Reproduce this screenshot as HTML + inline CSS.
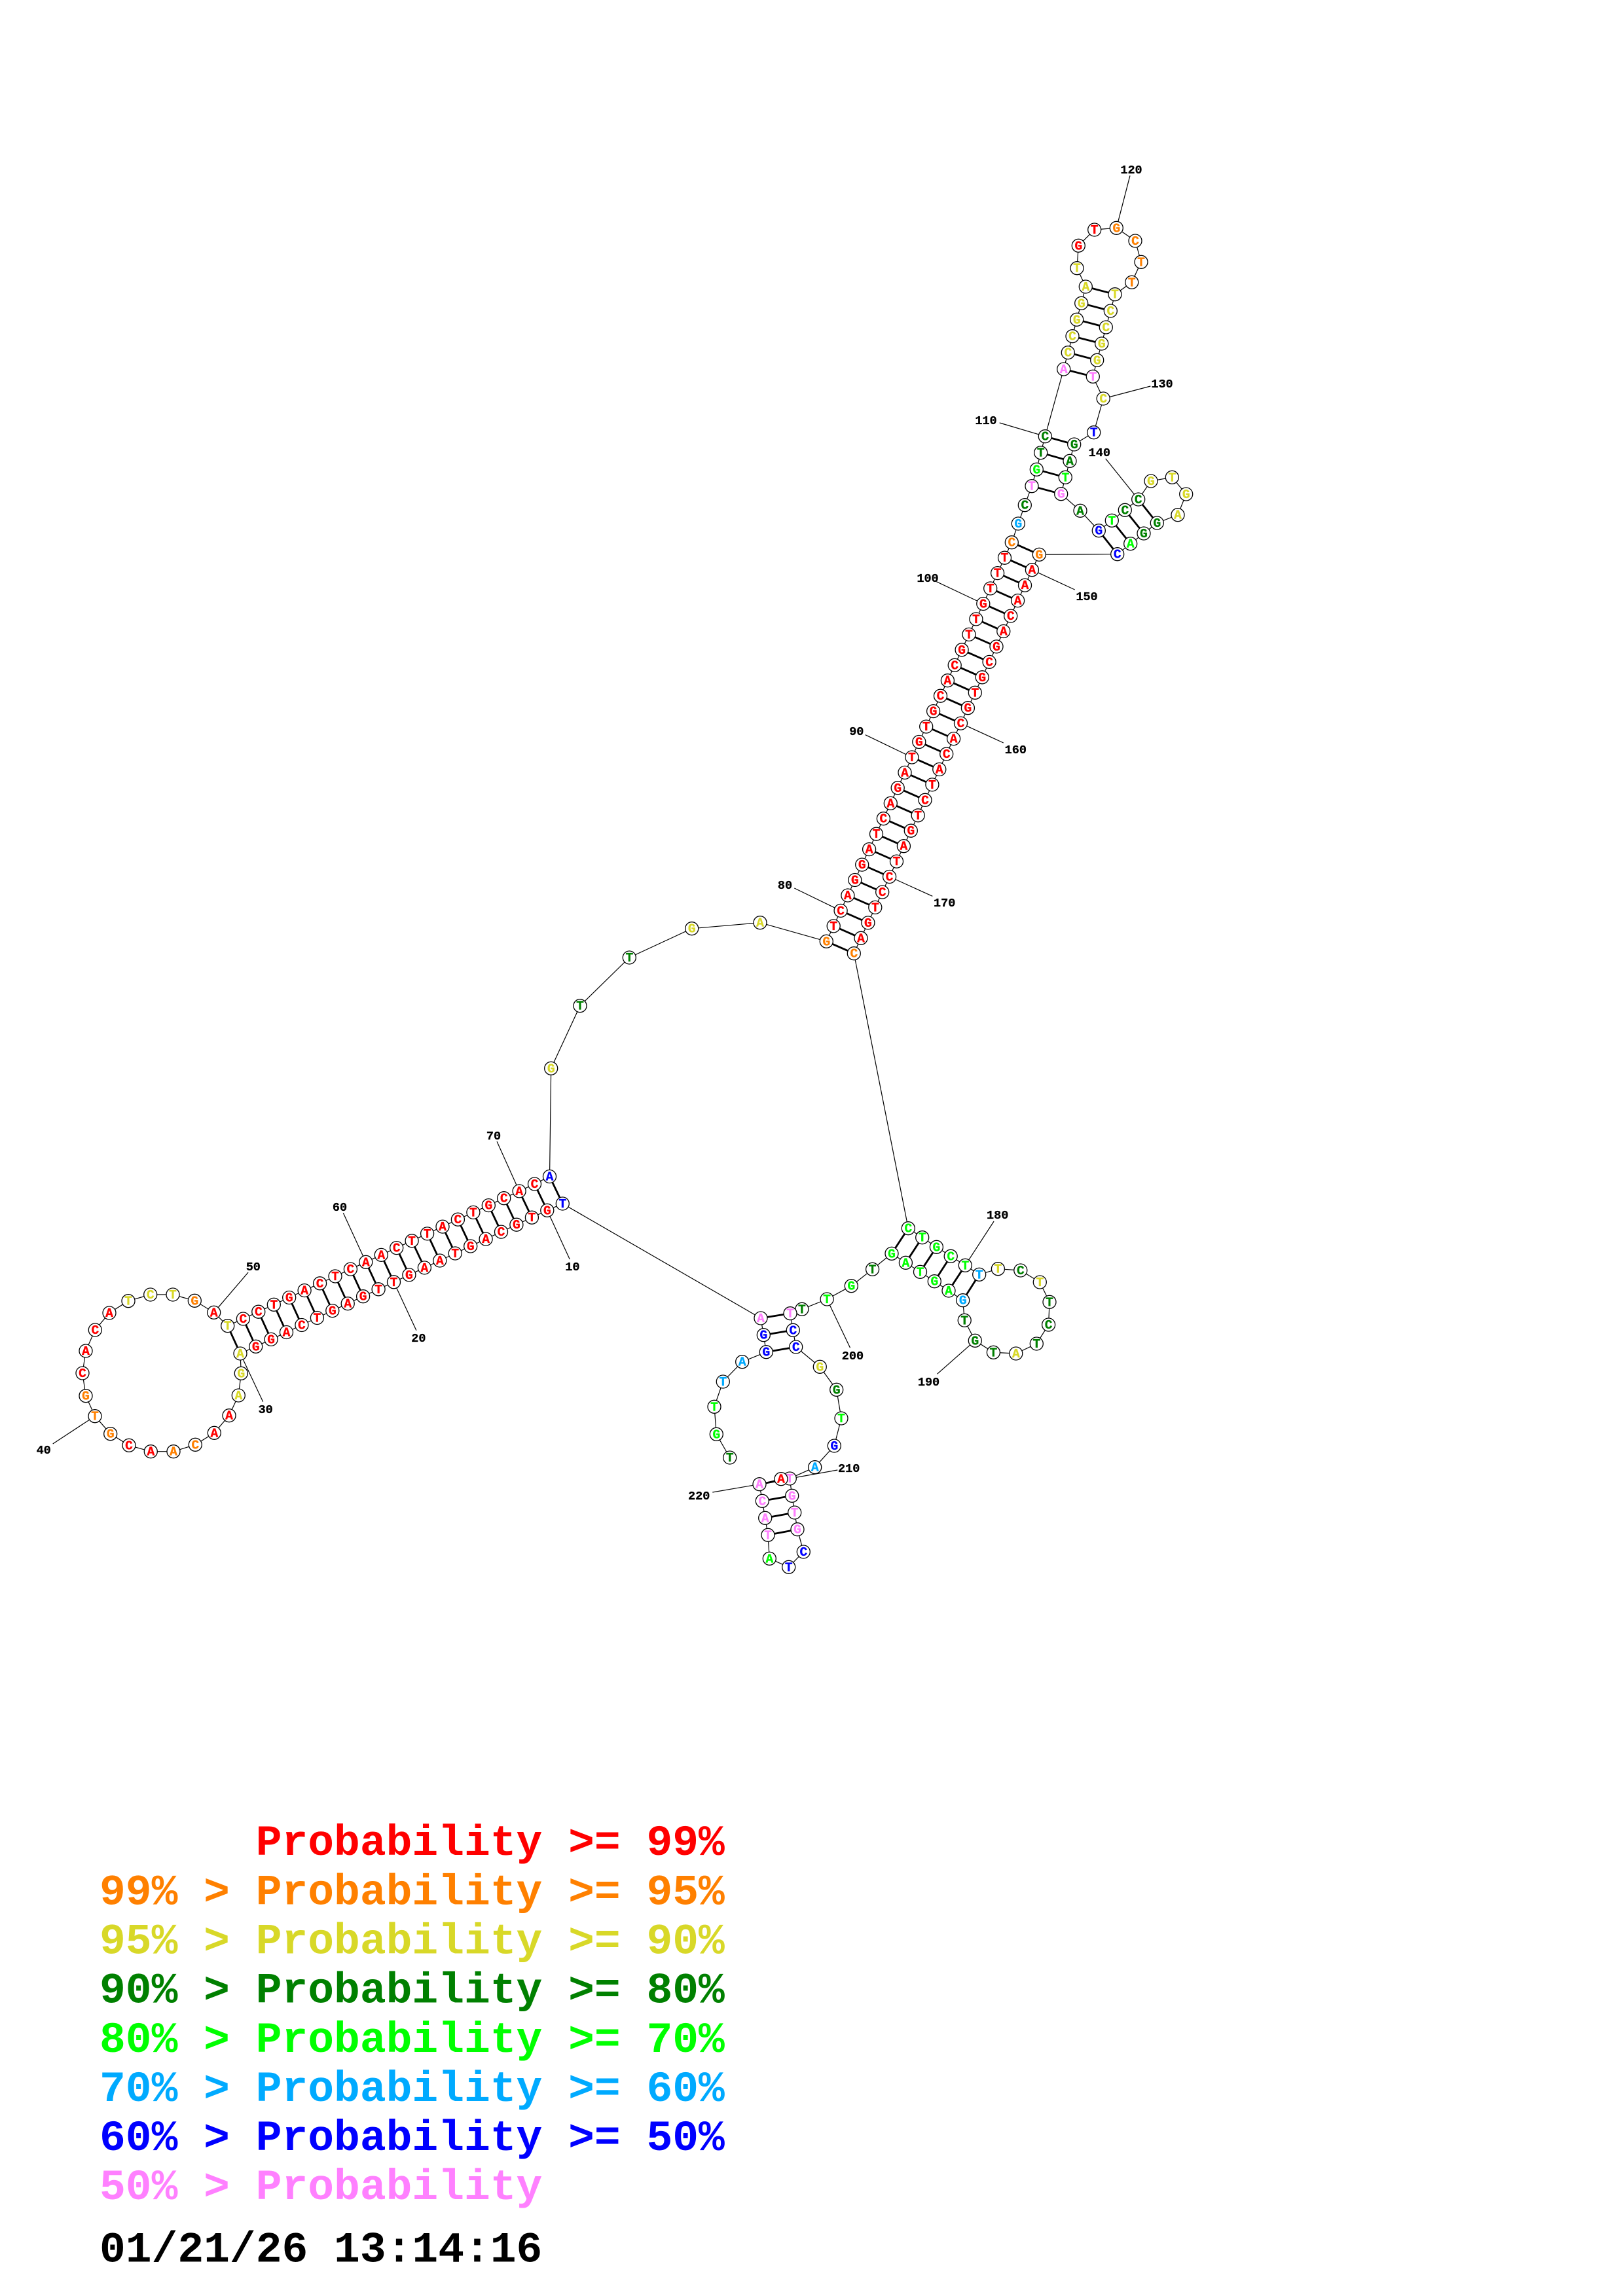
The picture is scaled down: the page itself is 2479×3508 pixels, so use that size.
<!DOCTYPE html>
<html><head><meta charset="utf-8"><style>
html,body{margin:0;padding:0;background:#fff}
svg{display:block}
circle{fill:#fff;stroke:#000;stroke-width:1.3}
text{font-family:"Liberation Mono",monospace;font-weight:bold}
.n text{font-size:19.5px;text-anchor:middle;stroke-width:.35}
.l{font-size:18.5px;text-anchor:middle;fill:#000;stroke:#000;stroke-width:.3}
.r{fill:#f00;stroke:#f00}.o{fill:#ff8000;stroke:#ff8000}.y{fill:#d8d828;stroke:#d8d828}.d{fill:#008000;stroke:#008000}.g{fill:#0f0;stroke:#0f0}.b{fill:#00aaff;stroke:#00aaff}.u{fill:#00f;stroke:#00f}.p{fill:#ff80ff;stroke:#ff80ff}
.L{font-size:66.3px;white-space:pre;stroke:none}
</style></head><body>
<svg xmlns="http://www.w3.org/2000/svg" width="2479" height="3508" viewBox="0 0 2479 3508">
<rect width="2479" height="3508" fill="#fff"/>
<path fill="none" stroke="#000" stroke-width="1.2" d="M1114.7 2227L1094.3 2191.3L1091 2149.3L1104.3 2111L1133.7 2080.7L1170.3 2065.7L1166.3 2039.7L1162 2014L859.3 1839L835.8 1849.3L812.4 1860.2L788.9 1871.2L765.5 1882.1L742.1 1893.1L718.7 1904L695.2 1915L671.8 1926L648.4 1936.9L624.9 1947.9L601.5 1958.8L578.1 1969.8L554.6 1980.7L531.2 1991.7L507.8 2002.6L484.4 2013.5L460.9 2024.5L437.5 2035.5L414.1 2046.4L390.7 2057.3L367 2068L368.3 2098.3L364.3 2132L350 2162.7L327.3 2189.3L298.3 2207.3L265 2217.7L230.3 2217.7L197 2208.3L168.7 2190.7L145 2163.7L131 2132.7L126 2098L131 2064L145.3 2032L167 2006L196 1987.7L229.7 1978L264 1978L297.3 1987.3L326.7 2005.3L347.7 2025.7L371.4 2015L394.8 2004.2L418.3 1993.3L441.7 1982.5L465.1 1971.6L488.6 1960.8L512 1950L535.4 1939.1L558.8 1928.3L582.3 1917.4L605.7 1906.6L629.1 1895.8L652.6 1884.9L676 1874.1L699.4 1863.2L722.9 1852.4L746.3 1841.6L769.7 1830.7L793.1 1819.9L816.5 1809L839.5 1797.5L841.7 1632.3L886 1536.7L961.3 1463L1056.7 1418.7L1161 1409.7L1262.3 1438.3L1273.2 1414.9L1284.1 1391.4L1294.9 1368L1305.8 1344.5L1316.7 1321.1L1327.6 1297.6L1338.5 1274.2L1349.4 1250.7L1360.3 1227.3L1371.2 1203.8L1382 1180.4L1392.9 1157L1403.8 1133.5L1414.7 1110.1L1425.6 1086.6L1436.5 1063.2L1447.4 1039.7L1458.2 1016.3L1469.1 992.8L1480 969.4L1490.9 945.9L1501.8 922.5L1512.7 899L1523.6 875.6L1534.5 852.2L1545.3 828.7L1555.3 800L1565.3 771.7L1576 742.7L1583.3 717.3L1589.7 691.7L1596.3 666.7L1624.7 564L1631.3 538.7L1638 513.7L1644.7 488.3L1651.7 463.3L1658.3 438L1645 409.7L1647.3 375.3L1671.7 351L1705.3 348.3L1734 368L1743 400.3L1728.7 431.3L1703 449.7L1696.3 475L1689.3 500L1682.7 525L1675.7 550.3L1669.3 575.3L1685.2 609L1670.7 660.7L1640.7 679L1634 704.3L1627.3 729.3L1620.7 754.7L1650 780.3L1678.3 810.7L1698.3 795.3L1718.3 779.3L1738.7 763L1758 735L1790.3 729.3L1811.7 755L1799 786.7L1767.3 799L1747 815L1726.7 830.7L1706.7 846.7L1587.3 847.3L1576.4 870.7L1565.5 894.2L1554.6 917.6L1543.7 941.1L1532.8 964.5L1522 987.9L1511.1 1011.4L1500.2 1034.8L1489.3 1058.3L1478.4 1081.7L1467.5 1105.1L1456.6 1128.6L1445.7 1152L1434.8 1175.5L1423.9 1198.9L1413 1222.3L1402.2 1245.8L1391.3 1269.2L1380.4 1292.7L1369.5 1316.1L1358.6 1339.5L1347.7 1363L1336.8 1386.4L1325.9 1409.9L1315 1433.3L1304.3 1456.7L1387.3 1876.7L1408.7 1890.7L1430.4 1905.3L1452.2 1919.3L1474.3 1933.3L1495.7 1947.3L1524.4 1938.7L1558.8 1941L1588.3 1959L1603 1989.3L1601.6 2024L1583.3 2053L1551.8 2068L1517.4 2066.3L1489.3 2048.3L1473.2 2017.3L1470.7 1986.7L1449 1972L1427.3 1957.7L1405.5 1943.3L1383.4 1929.3L1362 1915.3L1332.6 1939.3L1300.3 1964.7L1263.1 1985L1224.9 2000.3L1207 2006.7L1211.3 2032.3L1215.7 2058L1252.3 2088.3L1277.7 2123.3L1285 2167L1274.3 2209L1244.7 2241.7L1206.3 2259L1209.7 2285.3L1213.7 2311L1218 2336.7L1227.3 2371L1204.7 2394.3L1175.3 2381.3L1173 2345.3L1168.7 2319.3L1164.3 2293.3L1160 2267.7L1193 2259.7"/>
<path fill="none" stroke="#000" stroke-width="2.8" d="M859.3 1839L839.5 1797.5M835.8 1849.3L816.5 1809M812.4 1860.2L793.1 1819.9M788.9 1871.2L769.7 1830.7M765.5 1882.1L746.3 1841.6M742.1 1893.1L722.9 1852.4M718.7 1904L699.4 1863.2M695.2 1915L676 1874.1M671.8 1926L652.6 1884.9M648.4 1936.9L629.1 1895.8M624.9 1947.9L605.7 1906.6M601.5 1958.8L582.3 1917.4M578.1 1969.8L558.8 1928.3M554.6 1980.7L535.4 1939.1M531.2 1991.7L512 1950M507.8 2002.6L488.6 1960.8M484.4 2013.5L465.1 1971.6M460.9 2024.5L441.7 1982.5M437.5 2035.5L418.3 1993.3M414.1 2046.4L394.8 2004.2M390.7 2057.3L371.4 2015M367 2068L347.7 2025.7
M1262.3 1438.3L1304.3 1456.7M1273.2 1414.9L1315 1433.3M1284.1 1391.4L1325.9 1409.9M1294.9 1368L1336.8 1386.4M1305.8 1344.5L1347.7 1363M1316.7 1321.1L1358.6 1339.5M1327.6 1297.6L1369.5 1316.1M1338.5 1274.2L1380.4 1292.7M1349.4 1250.7L1391.3 1269.2M1360.3 1227.3L1402.2 1245.8M1371.2 1203.8L1413 1222.3M1382 1180.4L1423.9 1198.9M1392.9 1157L1434.8 1175.5M1403.8 1133.5L1445.7 1152M1414.7 1110.1L1456.6 1128.6M1425.6 1086.6L1467.5 1105.1M1436.5 1063.2L1478.4 1081.7M1447.4 1039.7L1489.3 1058.3M1458.2 1016.3L1500.2 1034.8M1469.1 992.8L1511.1 1011.4M1480 969.4L1522 987.9M1490.9 945.9L1532.8 964.5M1501.8 922.5L1543.7 941.1M1512.7 899L1554.6 917.6M1523.6 875.6L1565.5 894.2M1534.5 852.2L1576.4 870.7M1545.3 828.7L1587.3 847.3
M1576 742.7L1620.7 754.7M1583.3 717.3L1627.3 729.3M1589.7 691.7L1634 704.3M1596.3 666.7L1640.7 679
M1624.7 564L1669.3 575.3M1631.3 538.7L1675.7 550.3M1638 513.7L1682.7 525M1644.7 488.3L1689.3 500M1651.7 463.3L1696.3 475M1658.3 438L1703 449.7
M1678.3 810.7L1706.7 846.7M1698.3 795.3L1726.7 830.7M1718.3 779.3L1747 815M1738.7 763L1767.3 799
M1387.3 1876.7L1362 1915.3M1408.7 1890.7L1383.4 1929.3M1430.4 1905.3L1405.5 1943.3M1452.2 1919.3L1427.3 1957.7M1474.3 1933.3L1449 1972M1495.7 1947.3L1470.7 1986.7
M1162 2014L1207 2006.7M1166.3 2039.7L1211.3 2032.3M1170.3 2065.7L1215.7 2058
M1206.3 2259L1160 2267.7M1209.7 2285.3L1164.3 2293.3M1213.7 2311L1168.7 2319.3M1218 2336.7L1173 2345.3"/>
<path fill="none" stroke="#000" stroke-width="1.2" d="M835.8 1849.3L870.2 1924M601.5 1958.8L635.9 2032.7M367 2068L401.7 2141.7M145 2163.7L80.7 2206M326.7 2005.3L379.1 1944M558.8 1928.3L524.3 1853.3M793.1 1819.9L759 1744M1284.1 1391.4L1213.3 1357M1392.9 1157L1321.7 1122.7M1501.8 922.5L1430.4 888.7M1596.3 666.7L1526.7 646M1705.3 348.3L1726 268.3M1685.2 609L1757.3 590M1738.7 763L1688.7 700.7M1576.4 870.7L1641.7 901M1467.5 1105.1L1532.7 1135M1358.6 1339.5L1424.3 1369.3M1474.3 1933.3L1518.1 1866M1489.3 2048.3L1431.5 2099.3M1263.1 1985L1298.5 2059.3M1206.3 2259L1279.3 2246M1160 2267.7L1088.3 2280"/>
<g class="n">
<circle cx="1114.7" cy="2227" r="10"/><text x="1114.7" y="2233" class="d">T</text>
<circle cx="1094.3" cy="2191.3" r="10"/><text x="1094.3" y="2197.3" class="g">G</text>
<circle cx="1091" cy="2149.3" r="10"/><text x="1091" y="2155.3" class="g">T</text>
<circle cx="1104.3" cy="2111" r="10"/><text x="1104.3" y="2117" class="b">T</text>
<circle cx="1133.7" cy="2080.7" r="10"/><text x="1133.7" y="2086.7" class="b">A</text>
<circle cx="1170.3" cy="2065.7" r="10"/><text x="1170.3" y="2071.7" class="u">G</text>
<circle cx="1166.3" cy="2039.7" r="10"/><text x="1166.3" y="2045.7" class="u">G</text>
<circle cx="1162" cy="2014" r="10"/><text x="1162" y="2020" class="p">A</text>
<circle cx="859.3" cy="1839" r="10"/><text x="859.3" y="1845" class="u">T</text>
<circle cx="835.8" cy="1849.3" r="10"/><text x="835.8" y="1855.3" class="r">G</text>
<circle cx="812.4" cy="1860.2" r="10"/><text x="812.4" y="1866.2" class="r">T</text>
<circle cx="788.9" cy="1871.2" r="10"/><text x="788.9" y="1877.2" class="r">G</text>
<circle cx="765.5" cy="1882.1" r="10"/><text x="765.5" y="1888.1" class="r">C</text>
<circle cx="742.1" cy="1893.1" r="10"/><text x="742.1" y="1899.1" class="r">A</text>
<circle cx="718.7" cy="1904" r="10"/><text x="718.7" y="1910" class="r">G</text>
<circle cx="695.2" cy="1915" r="10"/><text x="695.2" y="1921" class="r">T</text>
<circle cx="671.8" cy="1926" r="10"/><text x="671.8" y="1932" class="r">A</text>
<circle cx="648.4" cy="1936.9" r="10"/><text x="648.4" y="1942.9" class="r">A</text>
<circle cx="624.9" cy="1947.9" r="10"/><text x="624.9" y="1953.9" class="r">G</text>
<circle cx="601.5" cy="1958.8" r="10"/><text x="601.5" y="1964.8" class="r">T</text>
<circle cx="578.1" cy="1969.8" r="10"/><text x="578.1" y="1975.8" class="r">T</text>
<circle cx="554.6" cy="1980.7" r="10"/><text x="554.6" y="1986.7" class="r">G</text>
<circle cx="531.2" cy="1991.7" r="10"/><text x="531.2" y="1997.7" class="r">A</text>
<circle cx="507.8" cy="2002.6" r="10"/><text x="507.8" y="2008.6" class="r">G</text>
<circle cx="484.4" cy="2013.5" r="10"/><text x="484.4" y="2019.5" class="r">T</text>
<circle cx="460.9" cy="2024.5" r="10"/><text x="460.9" y="2030.5" class="r">C</text>
<circle cx="437.5" cy="2035.5" r="10"/><text x="437.5" y="2041.5" class="r">A</text>
<circle cx="414.1" cy="2046.4" r="10"/><text x="414.1" y="2052.4" class="r">G</text>
<circle cx="390.7" cy="2057.3" r="10"/><text x="390.7" y="2063.3" class="r">G</text>
<circle cx="367" cy="2068" r="10"/><text x="367" y="2074" class="y">A</text>
<circle cx="368.3" cy="2098.3" r="10"/><text x="368.3" y="2104.3" class="y">G</text>
<circle cx="364.3" cy="2132" r="10"/><text x="364.3" y="2138" class="y">A</text>
<circle cx="350" cy="2162.7" r="10"/><text x="350" y="2168.7" class="r">A</text>
<circle cx="327.3" cy="2189.3" r="10"/><text x="327.3" y="2195.3" class="r">A</text>
<circle cx="298.3" cy="2207.3" r="10"/><text x="298.3" y="2213.3" class="o">C</text>
<circle cx="265" cy="2217.7" r="10"/><text x="265" y="2223.7" class="o">A</text>
<circle cx="230.3" cy="2217.7" r="10"/><text x="230.3" y="2223.7" class="r">A</text>
<circle cx="197" cy="2208.3" r="10"/><text x="197" y="2214.3" class="r">C</text>
<circle cx="168.7" cy="2190.7" r="10"/><text x="168.7" y="2196.7" class="o">G</text>
<circle cx="145" cy="2163.7" r="10"/><text x="145" y="2169.7" class="o">T</text>
<circle cx="131" cy="2132.7" r="10"/><text x="131" y="2138.7" class="o">G</text>
<circle cx="126" cy="2098" r="10"/><text x="126" y="2104" class="r">C</text>
<circle cx="131" cy="2064" r="10"/><text x="131" y="2070" class="r">A</text>
<circle cx="145.3" cy="2032" r="10"/><text x="145.3" y="2038" class="r">C</text>
<circle cx="167" cy="2006" r="10"/><text x="167" y="2012" class="r">A</text>
<circle cx="196" cy="1987.7" r="10"/><text x="196" y="1993.7" class="y">T</text>
<circle cx="229.7" cy="1978" r="10"/><text x="229.7" y="1984" class="y">C</text>
<circle cx="264" cy="1978" r="10"/><text x="264" y="1984" class="y">T</text>
<circle cx="297.3" cy="1987.3" r="10"/><text x="297.3" y="1993.3" class="o">G</text>
<circle cx="326.7" cy="2005.3" r="10"/><text x="326.7" y="2011.3" class="r">A</text>
<circle cx="347.7" cy="2025.7" r="10"/><text x="347.7" y="2031.7" class="y">T</text>
<circle cx="371.4" cy="2015" r="10"/><text x="371.4" y="2021" class="r">C</text>
<circle cx="394.8" cy="2004.2" r="10"/><text x="394.8" y="2010.2" class="r">C</text>
<circle cx="418.3" cy="1993.3" r="10"/><text x="418.3" y="1999.3" class="r">T</text>
<circle cx="441.7" cy="1982.5" r="10"/><text x="441.7" y="1988.5" class="r">G</text>
<circle cx="465.1" cy="1971.6" r="10"/><text x="465.1" y="1977.6" class="r">A</text>
<circle cx="488.6" cy="1960.8" r="10"/><text x="488.6" y="1966.8" class="r">C</text>
<circle cx="512" cy="1950" r="10"/><text x="512" y="1956" class="r">T</text>
<circle cx="535.4" cy="1939.1" r="10"/><text x="535.4" y="1945.1" class="r">C</text>
<circle cx="558.8" cy="1928.3" r="10"/><text x="558.8" y="1934.3" class="r">A</text>
<circle cx="582.3" cy="1917.4" r="10"/><text x="582.3" y="1923.4" class="r">A</text>
<circle cx="605.7" cy="1906.6" r="10"/><text x="605.7" y="1912.6" class="r">C</text>
<circle cx="629.1" cy="1895.8" r="10"/><text x="629.1" y="1901.8" class="r">T</text>
<circle cx="652.6" cy="1884.9" r="10"/><text x="652.6" y="1890.9" class="r">T</text>
<circle cx="676" cy="1874.1" r="10"/><text x="676" y="1880.1" class="r">A</text>
<circle cx="699.4" cy="1863.2" r="10"/><text x="699.4" y="1869.2" class="r">C</text>
<circle cx="722.9" cy="1852.4" r="10"/><text x="722.9" y="1858.4" class="r">T</text>
<circle cx="746.3" cy="1841.6" r="10"/><text x="746.3" y="1847.6" class="r">G</text>
<circle cx="769.7" cy="1830.7" r="10"/><text x="769.7" y="1836.7" class="r">C</text>
<circle cx="793.1" cy="1819.9" r="10"/><text x="793.1" y="1825.9" class="r">A</text>
<circle cx="816.5" cy="1809" r="10"/><text x="816.5" y="1815" class="r">C</text>
<circle cx="839.5" cy="1797.5" r="10"/><text x="839.5" y="1803.5" class="u">A</text>
<circle cx="841.7" cy="1632.3" r="10"/><text x="841.7" y="1638.3" class="y">G</text>
<circle cx="886" cy="1536.7" r="10"/><text x="886" y="1542.7" class="d">T</text>
<circle cx="961.3" cy="1463" r="10"/><text x="961.3" y="1469" class="d">T</text>
<circle cx="1056.7" cy="1418.7" r="10"/><text x="1056.7" y="1424.7" class="y">G</text>
<circle cx="1161" cy="1409.7" r="10"/><text x="1161" y="1415.7" class="y">A</text>
<circle cx="1262.3" cy="1438.3" r="10"/><text x="1262.3" y="1444.3" class="o">G</text>
<circle cx="1273.2" cy="1414.9" r="10"/><text x="1273.2" y="1420.9" class="r">T</text>
<circle cx="1284.1" cy="1391.4" r="10"/><text x="1284.1" y="1397.4" class="r">C</text>
<circle cx="1294.9" cy="1368" r="10"/><text x="1294.9" y="1374" class="r">A</text>
<circle cx="1305.8" cy="1344.5" r="10"/><text x="1305.8" y="1350.5" class="r">G</text>
<circle cx="1316.7" cy="1321.1" r="10"/><text x="1316.7" y="1327.1" class="r">G</text>
<circle cx="1327.6" cy="1297.6" r="10"/><text x="1327.6" y="1303.6" class="r">A</text>
<circle cx="1338.5" cy="1274.2" r="10"/><text x="1338.5" y="1280.2" class="r">T</text>
<circle cx="1349.4" cy="1250.7" r="10"/><text x="1349.4" y="1256.7" class="r">C</text>
<circle cx="1360.3" cy="1227.3" r="10"/><text x="1360.3" y="1233.3" class="r">A</text>
<circle cx="1371.2" cy="1203.8" r="10"/><text x="1371.2" y="1209.8" class="r">G</text>
<circle cx="1382" cy="1180.4" r="10"/><text x="1382" y="1186.4" class="r">A</text>
<circle cx="1392.9" cy="1157" r="10"/><text x="1392.9" y="1163" class="r">T</text>
<circle cx="1403.8" cy="1133.5" r="10"/><text x="1403.8" y="1139.5" class="r">G</text>
<circle cx="1414.7" cy="1110.1" r="10"/><text x="1414.7" y="1116.1" class="r">T</text>
<circle cx="1425.6" cy="1086.6" r="10"/><text x="1425.6" y="1092.6" class="r">G</text>
<circle cx="1436.5" cy="1063.2" r="10"/><text x="1436.5" y="1069.2" class="r">C</text>
<circle cx="1447.4" cy="1039.7" r="10"/><text x="1447.4" y="1045.7" class="r">A</text>
<circle cx="1458.2" cy="1016.3" r="10"/><text x="1458.2" y="1022.3" class="r">C</text>
<circle cx="1469.1" cy="992.8" r="10"/><text x="1469.1" y="998.8" class="r">G</text>
<circle cx="1480" cy="969.4" r="10"/><text x="1480" y="975.4" class="r">T</text>
<circle cx="1490.9" cy="945.9" r="10"/><text x="1490.9" y="951.9" class="r">T</text>
<circle cx="1501.8" cy="922.5" r="10"/><text x="1501.8" y="928.5" class="r">G</text>
<circle cx="1512.7" cy="899" r="10"/><text x="1512.7" y="905" class="r">T</text>
<circle cx="1523.6" cy="875.6" r="10"/><text x="1523.6" y="881.6" class="r">T</text>
<circle cx="1534.5" cy="852.2" r="10"/><text x="1534.5" y="858.2" class="r">T</text>
<circle cx="1545.3" cy="828.7" r="10"/><text x="1545.3" y="834.7" class="o">C</text>
<circle cx="1555.3" cy="800" r="10"/><text x="1555.3" y="806" class="b">G</text>
<circle cx="1565.3" cy="771.7" r="10"/><text x="1565.3" y="777.7" class="d">C</text>
<circle cx="1576" cy="742.7" r="10"/><text x="1576" y="748.7" class="p">T</text>
<circle cx="1583.3" cy="717.3" r="10"/><text x="1583.3" y="723.3" class="g">G</text>
<circle cx="1589.7" cy="691.7" r="10"/><text x="1589.7" y="697.7" class="d">T</text>
<circle cx="1596.3" cy="666.7" r="10"/><text x="1596.3" y="672.7" class="d">C</text>
<circle cx="1624.7" cy="564" r="10"/><text x="1624.7" y="570" class="p">A</text>
<circle cx="1631.3" cy="538.7" r="10"/><text x="1631.3" y="544.7" class="y">C</text>
<circle cx="1638" cy="513.7" r="10"/><text x="1638" y="519.7" class="y">C</text>
<circle cx="1644.7" cy="488.3" r="10"/><text x="1644.7" y="494.3" class="y">G</text>
<circle cx="1651.7" cy="463.3" r="10"/><text x="1651.7" y="469.3" class="y">G</text>
<circle cx="1658.3" cy="438" r="10"/><text x="1658.3" y="444" class="y">A</text>
<circle cx="1645" cy="409.7" r="10"/><text x="1645" y="415.7" class="y">T</text>
<circle cx="1647.3" cy="375.3" r="10"/><text x="1647.3" y="381.3" class="r">G</text>
<circle cx="1671.7" cy="351" r="10"/><text x="1671.7" y="357" class="r">T</text>
<circle cx="1705.3" cy="348.3" r="10"/><text x="1705.3" y="354.3" class="o">G</text>
<circle cx="1734" cy="368" r="10"/><text x="1734" y="374" class="o">C</text>
<circle cx="1743" cy="400.3" r="10"/><text x="1743" y="406.3" class="o">T</text>
<circle cx="1728.7" cy="431.3" r="10"/><text x="1728.7" y="437.3" class="o">T</text>
<circle cx="1703" cy="449.7" r="10"/><text x="1703" y="455.7" class="y">T</text>
<circle cx="1696.3" cy="475" r="10"/><text x="1696.3" y="481" class="y">C</text>
<circle cx="1689.3" cy="500" r="10"/><text x="1689.3" y="506" class="y">C</text>
<circle cx="1682.7" cy="525" r="10"/><text x="1682.7" y="531" class="y">G</text>
<circle cx="1675.7" cy="550.3" r="10"/><text x="1675.7" y="556.3" class="y">G</text>
<circle cx="1669.3" cy="575.3" r="10"/><text x="1669.3" y="581.3" class="p">T</text>
<circle cx="1685.2" cy="609" r="10"/><text x="1685.2" y="615" class="y">C</text>
<circle cx="1670.7" cy="660.7" r="10"/><text x="1670.7" y="666.7" class="u">T</text>
<circle cx="1640.7" cy="679" r="10"/><text x="1640.7" y="685" class="d">G</text>
<circle cx="1634" cy="704.3" r="10"/><text x="1634" y="710.3" class="d">A</text>
<circle cx="1627.3" cy="729.3" r="10"/><text x="1627.3" y="735.3" class="g">T</text>
<circle cx="1620.7" cy="754.7" r="10"/><text x="1620.7" y="760.7" class="p">G</text>
<circle cx="1650" cy="780.3" r="10"/><text x="1650" y="786.3" class="d">A</text>
<circle cx="1678.3" cy="810.7" r="10"/><text x="1678.3" y="816.7" class="u">G</text>
<circle cx="1698.3" cy="795.3" r="10"/><text x="1698.3" y="801.3" class="g">T</text>
<circle cx="1718.3" cy="779.3" r="10"/><text x="1718.3" y="785.3" class="d">C</text>
<circle cx="1738.7" cy="763" r="10"/><text x="1738.7" y="769" class="d">C</text>
<circle cx="1758" cy="735" r="10"/><text x="1758" y="741" class="y">G</text>
<circle cx="1790.3" cy="729.3" r="10"/><text x="1790.3" y="735.3" class="y">T</text>
<circle cx="1811.7" cy="755" r="10"/><text x="1811.7" y="761" class="y">G</text>
<circle cx="1799" cy="786.7" r="10"/><text x="1799" y="792.7" class="y">A</text>
<circle cx="1767.3" cy="799" r="10"/><text x="1767.3" y="805" class="d">G</text>
<circle cx="1747" cy="815" r="10"/><text x="1747" y="821" class="d">G</text>
<circle cx="1726.7" cy="830.7" r="10"/><text x="1726.7" y="836.7" class="g">A</text>
<circle cx="1706.7" cy="846.7" r="10"/><text x="1706.7" y="852.7" class="u">C</text>
<circle cx="1587.3" cy="847.3" r="10"/><text x="1587.3" y="853.3" class="o">G</text>
<circle cx="1576.4" cy="870.7" r="10"/><text x="1576.4" y="876.7" class="r">A</text>
<circle cx="1565.5" cy="894.2" r="10"/><text x="1565.5" y="900.2" class="r">A</text>
<circle cx="1554.6" cy="917.6" r="10"/><text x="1554.6" y="923.6" class="r">A</text>
<circle cx="1543.7" cy="941.1" r="10"/><text x="1543.7" y="947.1" class="r">C</text>
<circle cx="1532.8" cy="964.5" r="10"/><text x="1532.8" y="970.5" class="r">A</text>
<circle cx="1522" cy="987.9" r="10"/><text x="1522" y="993.9" class="r">G</text>
<circle cx="1511.1" cy="1011.4" r="10"/><text x="1511.1" y="1017.4" class="r">C</text>
<circle cx="1500.2" cy="1034.8" r="10"/><text x="1500.2" y="1040.8" class="r">G</text>
<circle cx="1489.3" cy="1058.3" r="10"/><text x="1489.3" y="1064.3" class="r">T</text>
<circle cx="1478.4" cy="1081.7" r="10"/><text x="1478.4" y="1087.7" class="r">G</text>
<circle cx="1467.5" cy="1105.1" r="10"/><text x="1467.5" y="1111.1" class="r">C</text>
<circle cx="1456.6" cy="1128.6" r="10"/><text x="1456.6" y="1134.6" class="r">A</text>
<circle cx="1445.7" cy="1152" r="10"/><text x="1445.7" y="1158" class="r">C</text>
<circle cx="1434.8" cy="1175.5" r="10"/><text x="1434.8" y="1181.5" class="r">A</text>
<circle cx="1423.9" cy="1198.9" r="10"/><text x="1423.9" y="1204.9" class="r">T</text>
<circle cx="1413" cy="1222.3" r="10"/><text x="1413" y="1228.3" class="r">C</text>
<circle cx="1402.2" cy="1245.8" r="10"/><text x="1402.2" y="1251.8" class="r">T</text>
<circle cx="1391.3" cy="1269.2" r="10"/><text x="1391.3" y="1275.2" class="r">G</text>
<circle cx="1380.4" cy="1292.7" r="10"/><text x="1380.4" y="1298.7" class="r">A</text>
<circle cx="1369.5" cy="1316.1" r="10"/><text x="1369.5" y="1322.1" class="r">T</text>
<circle cx="1358.6" cy="1339.5" r="10"/><text x="1358.6" y="1345.5" class="r">C</text>
<circle cx="1347.7" cy="1363" r="10"/><text x="1347.7" y="1369" class="r">C</text>
<circle cx="1336.8" cy="1386.4" r="10"/><text x="1336.8" y="1392.4" class="r">T</text>
<circle cx="1325.9" cy="1409.9" r="10"/><text x="1325.9" y="1415.9" class="r">G</text>
<circle cx="1315" cy="1433.3" r="10"/><text x="1315" y="1439.3" class="r">A</text>
<circle cx="1304.3" cy="1456.7" r="10"/><text x="1304.3" y="1462.7" class="o">C</text>
<circle cx="1387.3" cy="1876.7" r="10"/><text x="1387.3" y="1882.7" class="g">C</text>
<circle cx="1408.7" cy="1890.7" r="10"/><text x="1408.7" y="1896.7" class="g">T</text>
<circle cx="1430.4" cy="1905.3" r="10"/><text x="1430.4" y="1911.3" class="g">G</text>
<circle cx="1452.2" cy="1919.3" r="10"/><text x="1452.2" y="1925.3" class="g">C</text>
<circle cx="1474.3" cy="1933.3" r="10"/><text x="1474.3" y="1939.3" class="g">T</text>
<circle cx="1495.7" cy="1947.3" r="10"/><text x="1495.7" y="1953.3" class="b">T</text>
<circle cx="1524.4" cy="1938.7" r="10"/><text x="1524.4" y="1944.7" class="y">T</text>
<circle cx="1558.8" cy="1941" r="10"/><text x="1558.8" y="1947" class="d">C</text>
<circle cx="1588.3" cy="1959" r="10"/><text x="1588.3" y="1965" class="y">T</text>
<circle cx="1603" cy="1989.3" r="10"/><text x="1603" y="1995.3" class="d">T</text>
<circle cx="1601.6" cy="2024" r="10"/><text x="1601.6" y="2030" class="d">C</text>
<circle cx="1583.3" cy="2053" r="10"/><text x="1583.3" y="2059" class="d">T</text>
<circle cx="1551.8" cy="2068" r="10"/><text x="1551.8" y="2074" class="y">A</text>
<circle cx="1517.4" cy="2066.3" r="10"/><text x="1517.4" y="2072.3" class="d">T</text>
<circle cx="1489.3" cy="2048.3" r="10"/><text x="1489.3" y="2054.3" class="d">G</text>
<circle cx="1473.2" cy="2017.3" r="10"/><text x="1473.2" y="2023.3" class="d">T</text>
<circle cx="1470.7" cy="1986.7" r="10"/><text x="1470.7" y="1992.7" class="b">G</text>
<circle cx="1449" cy="1972" r="10"/><text x="1449" y="1978" class="g">A</text>
<circle cx="1427.3" cy="1957.7" r="10"/><text x="1427.3" y="1963.7" class="g">G</text>
<circle cx="1405.5" cy="1943.3" r="10"/><text x="1405.5" y="1949.3" class="g">T</text>
<circle cx="1383.4" cy="1929.3" r="10"/><text x="1383.4" y="1935.3" class="g">A</text>
<circle cx="1362" cy="1915.3" r="10"/><text x="1362" y="1921.3" class="g">G</text>
<circle cx="1332.6" cy="1939.3" r="10"/><text x="1332.6" y="1945.3" class="d">T</text>
<circle cx="1300.3" cy="1964.7" r="10"/><text x="1300.3" y="1970.7" class="g">G</text>
<circle cx="1263.1" cy="1985" r="10"/><text x="1263.1" y="1991" class="g">T</text>
<circle cx="1224.9" cy="2000.3" r="10"/><text x="1224.9" y="2006.3" class="d">T</text>
<circle cx="1207" cy="2006.7" r="10"/><text x="1207" y="2012.7" class="p">T</text>
<circle cx="1211.3" cy="2032.3" r="10"/><text x="1211.3" y="2038.3" class="u">C</text>
<circle cx="1215.7" cy="2058" r="10"/><text x="1215.7" y="2064" class="u">C</text>
<circle cx="1252.3" cy="2088.3" r="10"/><text x="1252.3" y="2094.3" class="y">G</text>
<circle cx="1277.7" cy="2123.3" r="10"/><text x="1277.7" y="2129.3" class="d">G</text>
<circle cx="1285" cy="2167" r="10"/><text x="1285" y="2173" class="g">T</text>
<circle cx="1274.3" cy="2209" r="10"/><text x="1274.3" y="2215" class="u">G</text>
<circle cx="1244.7" cy="2241.7" r="10"/><text x="1244.7" y="2247.7" class="b">A</text>
<circle cx="1206.3" cy="2259" r="10"/><text x="1206.3" y="2265" class="p">T</text>
<circle cx="1209.7" cy="2285.3" r="10"/><text x="1209.7" y="2291.3" class="p">G</text>
<circle cx="1213.7" cy="2311" r="10"/><text x="1213.7" y="2317" class="p">T</text>
<circle cx="1218" cy="2336.7" r="10"/><text x="1218" y="2342.7" class="p">G</text>
<circle cx="1227.3" cy="2371" r="10"/><text x="1227.3" y="2377" class="u">C</text>
<circle cx="1204.7" cy="2394.3" r="10"/><text x="1204.7" y="2400.3" class="u">T</text>
<circle cx="1175.3" cy="2381.3" r="10"/><text x="1175.3" y="2387.3" class="g">A</text>
<circle cx="1173" cy="2345.3" r="10"/><text x="1173" y="2351.3" class="p">T</text>
<circle cx="1168.7" cy="2319.3" r="10"/><text x="1168.7" y="2325.3" class="p">A</text>
<circle cx="1164.3" cy="2293.3" r="10"/><text x="1164.3" y="2299.3" class="p">C</text>
<circle cx="1160" cy="2267.7" r="10"/><text x="1160" y="2273.7" class="p">A</text>
<circle cx="1193" cy="2259.7" r="10"/><text x="1193" y="2265.7" class="r">A</text>
</g>
<g>
<text class="l" x="874.4" y="1941">10</text>
<text class="l" x="639.4" y="2050">20</text>
<text class="l" x="405.7" y="2159">30</text>
<text class="l" x="66.7" y="2221">40</text>
<text class="l" x="386.8" y="1941">50</text>
<text class="l" x="519" y="1850">60</text>
<text class="l" x="754" y="1741">70</text>
<text class="l" x="1199" y="1358">80</text>
<text class="l" x="1308.3" y="1123">90</text>
<text class="l" x="1417" y="889">100</text>
<text class="l" x="1506" y="648">110</text>
<text class="l" x="1728" y="265">120</text>
<text class="l" x="1775" y="592">130</text>
<text class="l" x="1679.3" y="697">140</text>
<text class="l" x="1660" y="917">150</text>
<text class="l" x="1551.3" y="1151">160</text>
<text class="l" x="1442.7" y="1385">170</text>
<text class="l" x="1523.7" y="1862">180</text>
<text class="l" x="1418.5" y="2117">190</text>
<text class="l" x="1302.4" y="2077">200</text>
<text class="l" x="1296.7" y="2249">210</text>
<text class="l" x="1067.7" y="2291">220</text>
</g>
<text class="L r" x="152" y="2834">      Probability &gt;= 99%</text>
<text class="L o" x="152" y="2909.3">99% &gt; Probability &gt;= 95%</text>
<text class="L y" x="152" y="2984.3">95% &gt; Probability &gt;= 90%</text>
<text class="L d" x="152" y="3059.5">90% &gt; Probability &gt;= 80%</text>
<text class="L g" x="152" y="3134.8">80% &gt; Probability &gt;= 70%</text>
<text class="L b" x="152" y="3210.1">70% &gt; Probability &gt;= 60%</text>
<text class="L u" x="152" y="3285">60% &gt; Probability &gt;= 50%</text>
<text class="L p" x="152" y="3360.2">50% &gt; Probability</text>
<text class="L" x="152" y="3455.5" fill="#000">01/21/26 13:14:16</text>
</svg>
</body></html>
